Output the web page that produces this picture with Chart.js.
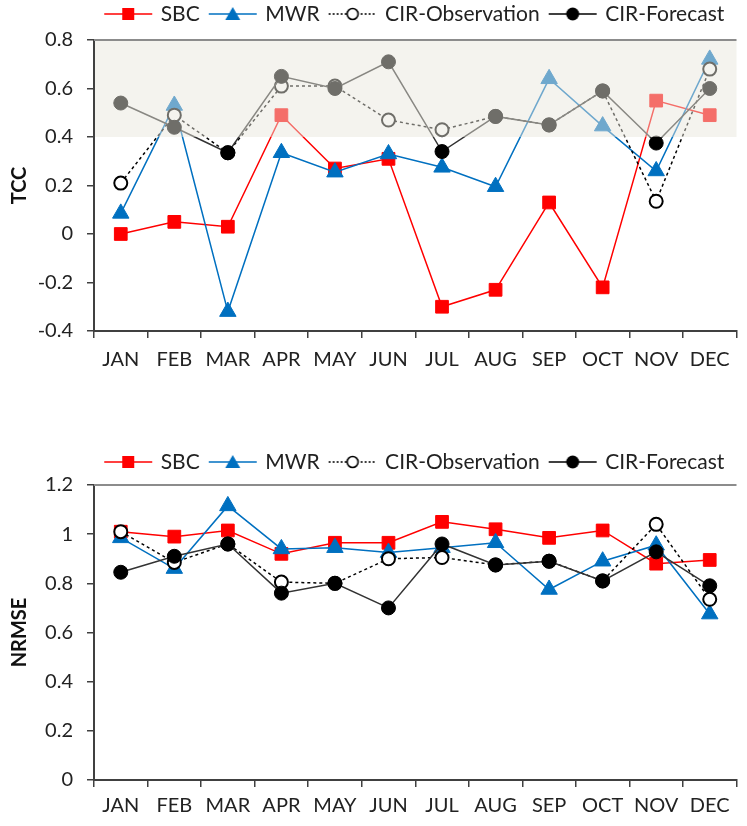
<!DOCTYPE html>
<html><head><meta charset="utf-8">
<script src="https://cdn.jsdelivr.net/npm/chart.js@4.4.0/dist/chart.umd.min.js"></script>
<style>
html,body{margin:0;padding:0;background:#fff;}
#wrap{position:relative;width:747px;height:826px;overflow:hidden;}
canvas{position:absolute;left:0;}
#c1{top:0;}
#c2{top:405px;}
</style></head><body>
<div id="wrap"><canvas id="c1" width="747" height="405"></canvas><canvas id="c2" width="747" height="421"></canvas></div>
<script>
const months = ['JAN','FEB','MAR','APR','MAY','JUN','JUL','AUG','SEP','OCT','NOV','DEC'];
const seriesNames = ['SBC','MWR','CIR-Observation','CIR-Forecast'];

// TCC panel
const tccSBC = [0.00, 0.05, 0.03, 0.49, 0.27, 0.31, -0.30, -0.23, 0.13, -0.22, 0.55, 0.49];
const tccMWR = [0.085, 0.53, -0.32, 0.335, 0.255, 0.33, 0.275, 0.195, 0.64, 0.445, 0.26, 0.72];
const tccObs = [0.21, 0.49, 0.335, 0.61, 0.61, 0.47, 0.43, 0.485, 0.45, 0.59, 0.135, 0.68];
const tccFc  = [0.54, 0.44, 0.335, 0.65, 0.60, 0.71, 0.34, 0.485, 0.45, 0.59, 0.375, 0.60];
const tccRange = [-0.4, 0.8];
const tccBand = [0.4, 0.8];

// NRMSE panel
const nrSBC = [1.01, 0.99, 1.015, 0.92, 0.965, 0.965, 1.05, 1.02, 0.985, 1.015, 0.88, 0.895];
const nrMWR = [0.985, 0.86, 1.115, 0.94, 0.945, 0.925, 0.945, 0.965, 0.775, 0.89, 0.955, 0.675];
const nrObs = [1.01, 0.885, 0.96, 0.805, 0.80, 0.90, 0.905, 0.875, 0.89, 0.81, 1.04, 0.735];
const nrFc  = [0.845, 0.91, 0.96, 0.76, 0.80, 0.70, 0.96, 0.875, 0.89, 0.81, 0.928, 0.79];
const nrRange = [0, 1.2];

const FONT = 'Lato, "Liberation Sans", sans-serif';
const FS = 20;
const LFS = 21;
const RED = '#ff0000', BLUE = '#0070c0';

function icon(kind){
  const c = document.createElement('canvas');
  c.width = 52; c.height = 22;
  const g = c.getContext('2d');
  const cy = 11, cx = 26;
  g.lineWidth = 1.5;
  g.beginPath();
  if (kind === 'obs') { g.setLineDash([2,2]); g.strokeStyle = '#000'; }
  else if (kind === 'sbc') g.strokeStyle = RED;
  else if (kind === 'mwr') g.strokeStyle = BLUE;
  else g.strokeStyle = '#000';
  g.moveTo(2, cy); g.lineTo(50, cy); g.stroke();
  g.setLineDash([]);
  if (kind === 'sbc') { g.fillStyle = RED; g.fillRect(cx-6, cy-6, 12, 12); }
  else if (kind === 'mwr') { g.fillStyle = BLUE; g.beginPath(); g.moveTo(cx, cy-7); g.lineTo(cx+7.5, cy+6); g.lineTo(cx-7.5, cy+6); g.closePath(); g.fill(); }
  else if (kind === 'obs') { g.fillStyle = '#fff'; g.strokeStyle = '#000'; g.lineWidth = 1.6; g.beginPath(); g.arc(cx, cy, 5.5, 0, Math.PI*2); g.fill(); g.stroke(); }
  else { g.fillStyle = '#000'; g.beginPath(); g.arc(cx, cy, 6.5, 0, Math.PI*2); g.fill(); }
  return c;
}
const icons = [icon('sbc'), icon('mwr'), icon('obs'), icon('fc')];

const fmt = v => String(Number(Number(v).toFixed(1)));

const bandPlugin = {
  id: 'bandPlugin',
  afterDatasetsDraw(chart, args, opts) {
    const {ctx, chartArea: a, scales: {y}} = chart;
    ctx.save();
    if (opts.band) {
      const y1 = y.getPixelForValue(opts.band[1]);
      const y2 = y.getPixelForValue(opts.band[0]);
      ctx.fillStyle = 'rgba(232,230,220,0.48)';
      ctx.fillRect(a.left + 1, y1, a.right - a.left - 1, y2 - y1);
    }
    ctx.strokeStyle = '#8c8c8c';
    ctx.lineWidth = 2;
    ctx.beginPath();
    ctx.moveTo(a.left, a.top);
    ctx.lineTo(a.right, a.top);
    ctx.stroke();
    ctx.restore();
  }
};
const legendHeightPlugin = {
  id: 'legendHeight',
  beforeInit(chart, args, opts) {
    const lg = chart.legend;
    const orig = lg.fit;
    lg.fit = function(){ orig.call(this); this.height = opts.h; };
  }
};

function makeChart(id, data, range, title, band, layoutTop, legendH, xHeight, xPad) {
  const ds = (label, values, i) => {
    const base = {label, data: values, borderWidth: 1.5, fill: false, tension: 0};
    if (i === 0) return Object.assign(base, {borderColor: RED, backgroundColor: RED, pointStyle: 'rect', pointRadius: 9, pointBackgroundColor: RED, pointBorderColor: RED, pointBorderWidth: 1, order: 4});
    if (i === 1) return Object.assign(base, {borderColor: BLUE, backgroundColor: BLUE, pointStyle: 'triangle', pointRadius: 9.5, pointBackgroundColor: BLUE, pointBorderColor: BLUE, pointBorderWidth: 1, order: 3});
    if (i === 2) return Object.assign(base, {borderColor: '#000', borderDash: [3,3], pointStyle: 'circle', pointRadius: 6.5, pointBackgroundColor: '#fff', pointBorderColor: '#000', pointBorderWidth: 2, order: 2});
    return Object.assign(base, {borderColor: '#333', pointStyle: 'circle', pointRadius: 7, pointBackgroundColor: '#000', pointBorderColor: '#000', pointBorderWidth: 1, order: 1});
  };
  return new Chart(document.getElementById(id), {
    type: 'line',
    data: { labels: months, datasets: data.map((v, i) => ds(seriesNames[i], v, i)) },
    plugins: [bandPlugin, legendHeightPlugin],
    options: {
      responsive: false, animation: false, devicePixelRatio: 1, events: [],
      layout: { padding: { top: layoutTop, right: 0, bottom: 0, left: 0 } },
      plugins: {
        tooltip: {enabled: false},
        bandPlugin: { band },
        legendHeight: { h: legendH },
        legend: {
          position: 'top', fullSize: false,
          labels: {
            usePointStyle: true, pointStyleWidth: 44, padding: 11,
            color: '#222', font: {family: FONT, size: LFS},
            generateLabels: (chart) => chart.data.datasets.map((d, i) => ({
              text: d.label, pointStyle: icons[i], fillStyle: 'rgba(0,0,0,0)', strokeStyle: 'rgba(0,0,0,0)',
              lineWidth: 0, hidden: false, datasetIndex: i, fontColor: '#222'
            }))
          }
        }
      },
      scales: {
        x: {
          type: 'category', offset: true,
          afterFit: s => { s.height = xHeight; },
          grid: { offset: true, drawOnChartArea: false, tickLength: 7, color: '#404040', lineWidth: 1.5 },
          border: { color: '#404040', width: 2 },
          ticks: { autoSkip: false, maxRotation: 0, padding: xPad, color: '#222', font: {family: FONT, size: FS} }
        },
        y: {
          min: range[0], max: range[1],
          afterFit: s => { s.width = 94; },
          grid: { drawOnChartArea: false, tickLength: 7, color: '#404040', lineWidth: 1.5 },
          border: { color: '#404040', width: 2 },
          ticks: { stepSize: 0.2, padding: 14, color: '#222', font: {family: FONT, size: FS}, callback: v => fmt(v) },
          title: { display: true, text: title, color: '#111', font: {family: FONT, size: FS, weight: 'bold'}, padding: {top: 8, bottom: 0} }
        }
      }
    }
  });
}

makeChart('c1', [tccSBC, tccMWR, tccObs, tccFc], tccRange, 'TCC', tccBand, -7.5, 47.5, 74, 10);
makeChart('c2', [nrSBC, nrMWR, nrObs, nrFc], nrRange, 'NRMSE', null, 35.5, 44.5, 46, 7);
</script>
</body></html>
